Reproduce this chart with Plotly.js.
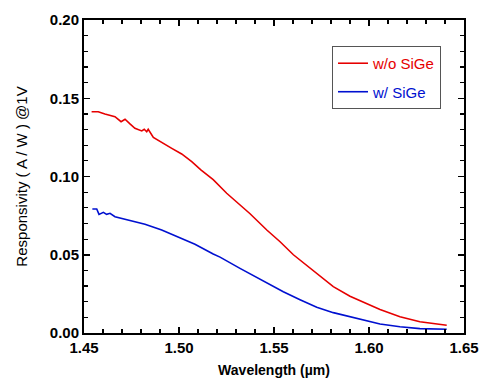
<!DOCTYPE html>
<html>
<head>
<meta charset="utf-8">
<script src="https://cdn.plot.ly/plotly-3.0.1.min.js"></script>
<style>html,body{margin:0;padding:0;background:#fff;}#chart{width:482px;height:379px;}</style>
</head>
<body>
<div id="chart"></div>
<script>
// Wavelength (µm) and responsivity (A/W)
const wavelengthNoSiGe = [1.4540, 1.4575, 1.4610, 1.4663, 1.4695, 1.4716, 1.4742, 1.4768, 1.4804, 1.4817, 1.4830, 1.4838, 1.4865, 1.4909, 1.4962, 1.5014, 1.5067, 1.5115, 1.5180, 1.5251, 1.5321, 1.5374, 1.5462, 1.5532, 1.5602, 1.5654, 1.5698, 1.5742, 1.5812, 1.5900, 1.5996, 1.6058, 1.6163, 1.6268, 1.6409];
const respNoSiGe = [0.1414, 0.1414, 0.1399, 0.1382, 0.1350, 0.1366, 0.1336, 0.1308, 0.1291, 0.1302, 0.1286, 0.1302, 0.1250, 0.1216, 0.1180, 0.1144, 0.1095, 0.1042, 0.0980, 0.0893, 0.0818, 0.0762, 0.0658, 0.0583, 0.0500, 0.0450, 0.0405, 0.0360, 0.0296, 0.0235, 0.0182, 0.0150, 0.0104, 0.0072, 0.0049];

const wavelengthSiGe = [1.4544, 1.4567, 1.4579, 1.4602, 1.4619, 1.4637, 1.4663, 1.4733, 1.4821, 1.4909, 1.4996, 1.5084, 1.5180, 1.5216, 1.5321, 1.5374, 1.5479, 1.5549, 1.5637, 1.5725, 1.5812, 1.5900, 1.5996, 1.6058, 1.6163, 1.6268, 1.6409];
const respSiGe = [0.0792, 0.0792, 0.0758, 0.0771, 0.0758, 0.0765, 0.0743, 0.0722, 0.0695, 0.0658, 0.0615, 0.0567, 0.0505, 0.0485, 0.0413, 0.0379, 0.0307, 0.0264, 0.0213, 0.0164, 0.0130, 0.0104, 0.0074, 0.0058, 0.0040, 0.0028, 0.0024];

const seriesNames = ['w/o SiGe', 'w/ SiGe'];
const xTickVals = [1.45, 1.50, 1.55, 1.60, 1.65];
const yTickVals = [0.00, 0.05, 0.10, 0.15, 0.20];

const FONT = 'Liberation Sans, Arial, sans-serif';
const RED = '#e60000';
const BLUE = '#0010d0';

const traces = [
  {x: wavelengthNoSiGe, y: respNoSiGe, type: 'scatter', mode: 'lines',
   name: '<span style="color:' + RED + '">' + seriesNames[0] + '</span>',
   legendgroup: 'a', line: {color: RED, width: 1.6}},
  {x: wavelengthSiGe, y: respSiGe, type: 'scatter', mode: 'lines',
   name: '<span style="color:' + BLUE + '">' + seriesNames[1] + '</span>',
   legendgroup: 'b', line: {color: BLUE, width: 1.6}}
];

const axisCommon = {
  showgrid: false, zeroline: false, showline: true, linecolor: '#000', linewidth: 2,
  mirror: 'allticks', ticks: 'inside', ticklen: 6, tickwidth: 1.5, tickcolor: '#000',
  tickfont: {family: FONT, size: 15, color: '#000', weight: 'bold'},
  tickformat: '.2f'
};

const layout = {
  width: 482, height: 379,
  margin: {l: 84, r: 18, t: 20, b: 46},
  paper_bgcolor: '#fff', plot_bgcolor: '#fff',
  font: {family: FONT, color: '#000'},
  showlegend: true,
  legend: {
    x: 0.9395, xanchor: 'right', y: 0.917, yanchor: 'top',
    bgcolor: '#fff', bordercolor: '#555', borderwidth: 1,
    font: {family: FONT, size: 15}, tracegroupgap: 6, itemwidth: 30
  },
  xaxis: Object.assign({}, axisCommon, {
    range: [1.45, 1.65], tickvals: xTickVals,
    minor: {dtick: 0.01, tick0: 1.45, ticks: 'inside', ticklen: 4, tickwidth: 1.2, tickcolor: '#000'},
    title: {text: 'Wavelength (µm)', font: {family: FONT, size: 14, weight: 'bold'}, standoff: 10}
  }),
  yaxis: Object.assign({}, axisCommon, {
    range: [0, 0.2], tickvals: yTickVals,
    minor: {dtick: 0.01, tick0: 0, ticks: 'inside', ticklen: 4, tickwidth: 1.2, tickcolor: '#000'},
    title: {text: 'Responsivity ( A / W ) @1V', font: {family: FONT, size: 15}, standoff: 19}
  })
};

Plotly.newPlot('chart', traces, layout, {displayModeBar: false, staticPlot: true});
</script>
</body>
</html>
